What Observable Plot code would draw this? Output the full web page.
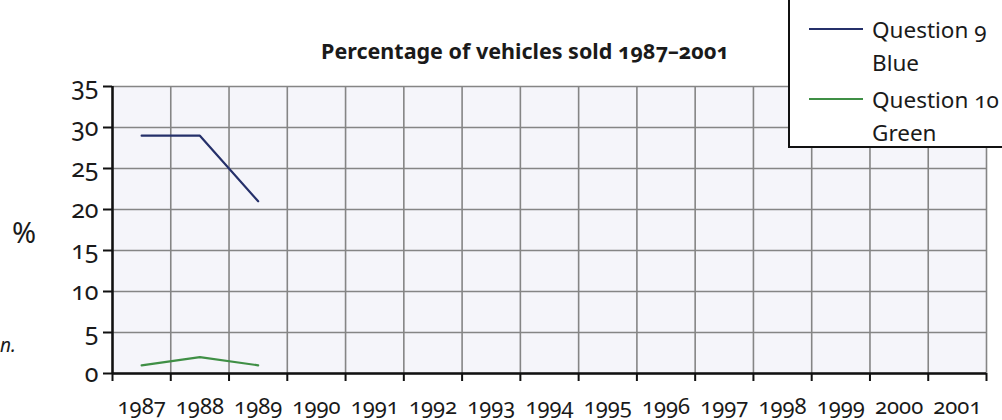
<!DOCTYPE html>
<html>
<head>
<meta charset="utf-8">
<script src="https://cdn.jsdelivr.net/npm/d3@7"></script>
<script src="https://cdn.jsdelivr.net/npm/@observablehq/plot@0.6"></script>
<style>
  html, body { margin: 0; padding: 0; background: #ffffff; }
  #wrap { position: relative; width: 1002px; height: 420px; overflow: hidden; font-family: "Noto Sans", sans-serif; color: #1a1a1a; }
  #wrap svg text, #wrap .txt { font-variant-numeric: oldstyle-nums; font-feature-settings: "onum" 1; }
  #chart { position: absolute; left: 0; top: 0; }
  #title { position: absolute; left: 0; width: 1050px; top: 36px; text-align: center; font-weight: bold; font-size: 21.5px; }
  #pct { position: absolute; left: 12px; top: 212px; font-size: 29px; }
  #frag { position: absolute; left: 0px; top: 332px; font-size: 19px; font-style: italic; }
  #legend { position: absolute; left: 788px; top: -3px; width: 230px; height: 151px; background: #fff; border: 2px solid #111; box-sizing: border-box; }
  .lg { position: absolute; left: 19px; width: 54px; height: 0; border-top: 2px solid; }
  .lt { position: absolute; left: 82px; font-size: 22.5px; line-height: 33px; }
</style>
</head>
<body>
<div id="wrap">
  <div id="chart"></div>
  <div id="title" class="txt">Percentage of vehicles sold 1987–2001</div>
  <div id="pct">%</div>
  <div id="frag">n.</div>
  <div id="legend">
    <div class="lg" style="top:29px; border-color:#25306a"></div>
    <div class="lt txt" style="top:14px">Question 9<br>Blue</div>
    <div class="lg" style="top:99px; border-color:#3f8f45"></div>
    <div class="lt txt" style="top:84px">Question 10<br>Green</div>
  </div>
</div>
<script>
// Data
const years = [1987, 1988, 1989, 1990, 1991, 1992, 1993, 1994, 1995, 1996, 1997, 1998, 1999, 2000, 2001];
const q9Years = [1987, 1988, 1989];
const q9Blue = [29, 29, 21];
const q10Years = [1987, 1988, 1989];
const q10Green = [1, 2, 1];
const yTicks = [0, 5, 10, 15, 20, 25, 30, 35];

const blue = q9Years.map((y, i) => ({year: y, value: q9Blue[i]}));
const green = q10Years.map((y, i) => ({year: y, value: q10Green[i]}));
const bounds = years.map(y => y - 0.5).concat([years[years.length - 1] + 0.5]);

const chart = Plot.plot({
  width: 1002,
  height: 420,
  marginLeft: 112,
  marginRight: 16,
  marginTop: 86,
  marginBottom: 47,
  style: {fontFamily: "Noto Sans, sans-serif", fontSize: "20px", color: "#1a1a1a", background: "transparent"},
  x: {domain: [bounds[0], bounds[bounds.length - 1]]},
  y: {domain: [0, 35]},
  marks: [
    Plot.frame({fill: "#f5f5fa", stroke: null}),
    Plot.gridY(yTicks, {stroke: "#858585", strokeOpacity: 1, strokeWidth: 1.6}),
    Plot.gridX(bounds, {stroke: "#858585", strokeOpacity: 1, strokeWidth: 1.6}),
    Plot.axisY(yTicks, {tickSize: 9, tickPadding: 5, strokeWidth: 2, stroke: "#111", label: null, fontSize: 25}),
    Plot.axisX(bounds, {tickSize: 8, strokeWidth: 2, stroke: "#111", text: null, label: null}),
    Plot.axisX(years, {tickSize: 0, tickPadding: 25, tickFormat: d => String(d), label: null, fontSize: 22}),
    Plot.ruleX([bounds[0]], {y1: 0, y2: 35, stroke: "#111", strokeWidth: 2.5}),
    Plot.ruleY([0], {stroke: "#111", strokeWidth: 2.5}),
    Plot.line(blue, {x: "year", y: "value", stroke: "#25306a", strokeWidth: 2.2}),
    Plot.line(green, {x: "year", y: "value", stroke: "#3f8f45", strokeWidth: 2.2})
  ]
});
document.getElementById("chart").appendChild(chart);
</script>
</body>
</html>
